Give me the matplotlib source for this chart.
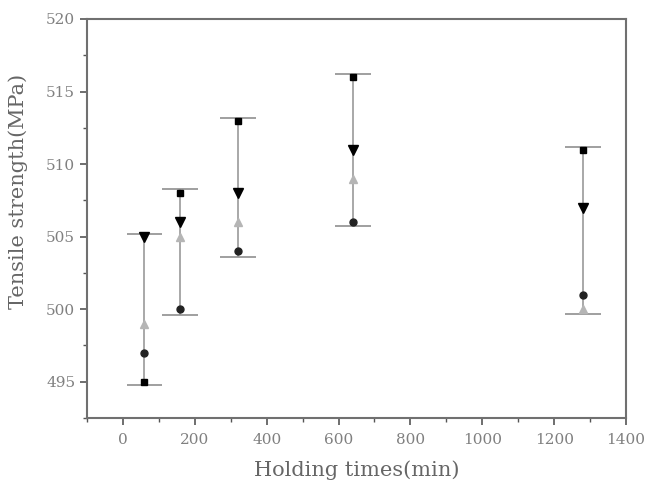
import matplotlib
matplotlib.use("Agg")
import matplotlib.pyplot as plt
from matplotlib.ticker import MultipleLocator

times = [60, 160, 320, 640, 1280]
square = [495, 508, 513, 516, 511]
circle = [497, 500, 504, 506, 501]
tri_up = [499, 505, 506, 509, 500]
tri_down = [505, 506, 508, 511, 507]
bar_low = [494.8, 499.6, 503.6, 505.7, 499.7]
bar_high = [505.2, 508.3, 513.2, 516.2, 511.2]

plt.rcParams['font.family'] = ['DejaVu Serif']

fig = plt.figure(figsize=(6.54, 4.87), dpi=100)
ax = fig.add_axes([87/654, 1-418/487, (626-87)/654, (418-19)/487])

ax.vlines(times, bar_low, bar_high, color='#9a9a9a', lw=1.2, zorder=1)
cap = 50
for t, lo, hi in zip(times, bar_low, bar_high):
    ax.hlines([lo, hi], t - cap, t + cap, color='#8f8f8f', lw=1.2, zorder=1)

ax.plot(times, tri_up, '^', color='#b5b5b5', ms=6, ls='none', zorder=2)
ax.plot(times, circle, 'o', color='#222222', ms=5, ls='none', zorder=3)
ax.plot(times, square, 's', color='black', ms=5, ls='none', zorder=3)
ax.plot(times, tri_down, 'v', color='black', ms=7, ls='none', zorder=3)

ax.set_xlim(-100, 1400)
ax.set_ylim(492.5, 520)
ax.xaxis.set_major_locator(MultipleLocator(200))
ax.xaxis.set_minor_locator(MultipleLocator(100))
ax.yaxis.set_major_locator(MultipleLocator(5))
ax.yaxis.set_minor_locator(MultipleLocator(2.5))

for s in ax.spines.values():
    s.set_color('#707070')
    s.set_linewidth(1.5)
ax.tick_params(which='both', direction='out', color='#555555', labelcolor='#808080',
               labelsize=11, top=False, right=False)
ax.tick_params(which='major', length=5, width=1.2)
ax.tick_params(which='minor', length=3, width=1.0)
ax.tick_params(axis='x', pad=6)

ax.set_xlabel('Holding times(min)', fontsize=15, color='#666666')
ax.set_ylabel('Tensile strength(MPa)', fontsize=15, color='#666666')
ax.xaxis.set_label_coords(0.5, -0.105)
ax.yaxis.set_label_coords(-0.11, 0.567)

fig.savefig('out.png', dpi=100)
